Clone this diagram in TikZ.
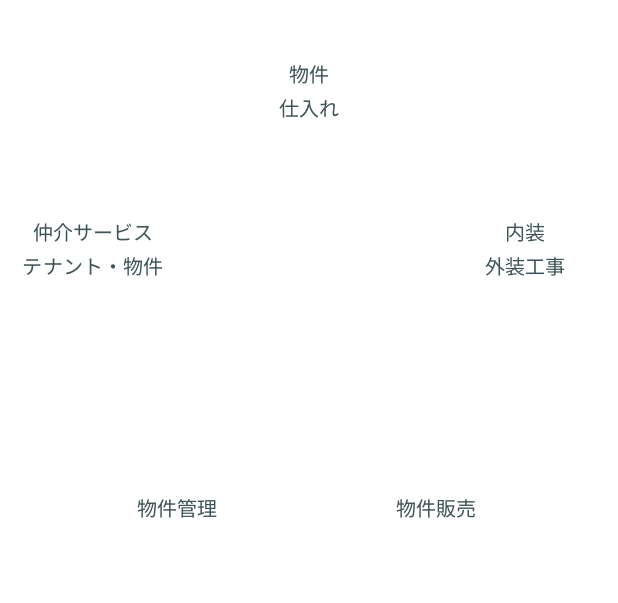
\documentclass[tikz,border=0pt]{standalone}
\usepackage{fontspec}
\newfontfamily\cjk{Noto Sans CJK JP}
\definecolor{txt}{HTML}{3E5357}
\begin{document}
\begin{tikzpicture}[x=1pt,y=-1pt,
  lbl/.style={font=\cjk\fontsize{20}{34}\selectfont,text=txt,align=center,inner sep=0pt}]
\useasboundingbox[fill=white] (0,0) rectangle (618,602);
\node[lbl] (shiire) at (309,92) {物件\\仕入れ};
\node[lbl] (chukai) at (93,250) {仲介サービス\\テナント・物件};
\node[lbl] (naiso) at (525,250) {内装\\外装工事};
\node[lbl] (kanri) at (177,509) {物件管理};
\node[lbl] (hanbai) at (436,509) {物件販売};
\end{tikzpicture}
\end{document}
